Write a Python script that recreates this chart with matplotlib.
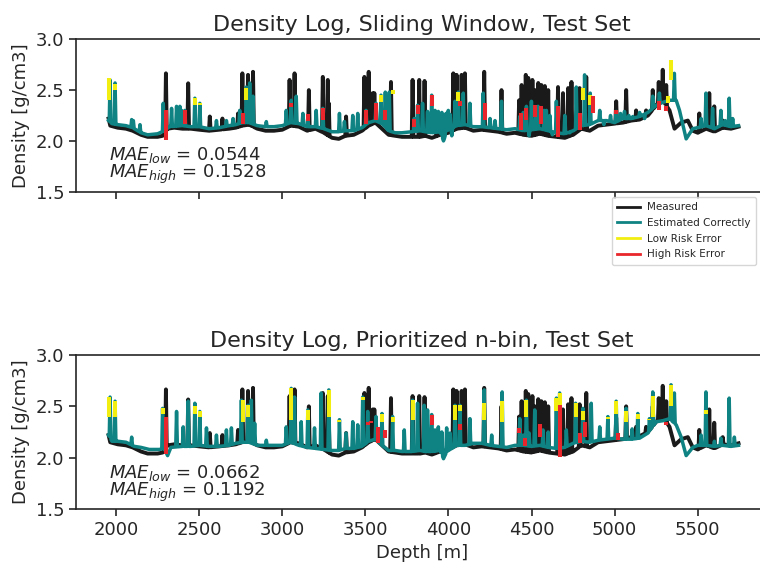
import numpy as np
import matplotlib
matplotlib.use("Agg")
import matplotlib.pyplot as plt
from matplotlib.lines import Line2D

# ---------------- data ----------------
# measured density log: baseline nodes and spikes (depth m, g/cm3)
meas_base_d = [1955, 1965, 2010, 2060, 2100, 2150, 2190, 2250, 2280, 2310, 2350, 2400, 2450, 2500,
               2560, 2620, 2680, 2720, 2760, 2800, 2850, 2900, 2950, 3000, 3050, 3100, 3150, 3200,
               3250, 3300, 3340, 3380, 3430, 3480, 3520, 3560, 3600, 3640, 3680, 3720, 3780, 3830,
               3860, 3900, 3950, 4000, 4050, 4100, 4150, 4200, 4250, 4300, 4350, 4400, 4450, 4500,
               4550, 4600, 4650, 4700, 4750, 4800, 4850, 4900, 4950, 5000, 5050, 5100, 5150, 5200,
               5250, 5290, 5330, 5360, 5400, 5440, 5470, 5500, 5550, 5600, 5650, 5700, 5745]
meas_base_v = [2.22, 2.15, 2.13, 2.12, 2.10, 2.06, 2.04, 2.04, 2.05, 2.12, 2.13, 2.12, 2.12, 2.11,
               2.10, 2.11, 2.12, 2.13, 2.15, 2.16, 2.12, 2.10, 2.10, 2.11, 2.15, 2.14, 2.10, 2.12,
               2.08, 2.03, 2.02, 2.05, 2.06, 2.10, 2.15, 2.18, 2.12, 2.06, 2.05, 2.04, 2.04, 2.04,
               2.05, 2.03, 2.06, 2.08, 2.12, 2.13, 2.10, 2.11, 2.10, 2.09, 2.07, 2.08, 2.06, 2.05,
               2.07, 2.05, 2.04, 2.03, 2.06, 2.12, 2.10, 2.15, 2.16, 2.17, 2.18, 2.20, 2.21, 2.25,
               2.35, 2.40, 2.30, 2.12, 2.18, 2.20, 2.10, 2.08, 2.12, 2.09, 2.13, 2.12, 2.14]
meas_spk_d = [2300, 2434, 2564, 2640, 2734, 2760, 2794, 2824, 3044, 3074, 3160, 3244, 3274, 3280,
              3384, 3494, 3520, 3544, 3554, 3654, 3784, 3824, 3856, 3930, 4029, 4049, 4079, 4099,
              4215, 4319, 4425, 4440, 4465, 4480, 4505, 4520, 4540, 4559, 4580, 4600, 4659, 4689,
              4720, 4740, 4789, 4829, 5009, 5069, 5129, 5189, 5229, 5265, 5289, 5310, 5509, 5569,
              5599, 5650]
meas_spk_v = [2.665, 2.567, 2.24, 2.22, 2.27, 2.665, 2.65, 2.68, 2.60, 2.665, 2.50, 2.63, 2.60, 2.37,
              2.24, 2.63, 2.68, 2.47, 2.47, 2.58, 2.60, 2.60, 2.59, 2.26, 2.665, 2.65, 2.65, 2.665,
              2.68, 2.50, 2.40, 2.55, 2.65, 2.62, 2.60, 2.50, 2.57, 2.55, 2.54, 2.50, 2.53, 2.47,
              2.52, 2.58, 2.52, 2.63, 2.39, 2.50, 2.30, 2.30, 2.50, 2.58, 2.70, 2.55, 2.27, 2.47,
              2.34, 2.20]

# --- Sliding window estimate ---
sw_base_d = [1955, 1975, 2010, 2060, 2100, 2150, 2190, 2250, 2290, 2320, 2400, 2450, 2500, 2560,
             2620, 2680, 2720, 2760, 2800, 2850, 2900, 2950, 3000, 3050, 3100, 3150, 3200, 3250,
             3300, 3340, 3380, 3430, 3480, 3520, 3560, 3600, 3640, 3680, 3720, 3780, 3830, 3860,
             3900, 3950, 3970, 3990, 4050, 4100, 4150, 4200, 4250, 4300, 4350, 4400, 4450, 4500,
             4550, 4600, 4650, 4700, 4750, 4800, 4850, 4900, 4950, 5000, 5050, 5100, 5150, 5200,
             5250, 5290, 5330, 5370, 5390, 5430, 5470, 5500, 5550, 5600, 5650, 5700, 5745]
sw_base_v = [2.20, 2.17, 2.16, 2.15, 2.13, 2.08, 2.06, 2.07, 2.10, 2.14, 2.15, 2.14, 2.14, 2.12,
             2.13, 2.15, 2.16, 2.18, 2.18, 2.15, 2.14, 2.14, 2.15, 2.18, 2.17, 2.14, 2.14, 2.12,
             2.09, 2.09, 2.10, 2.10, 2.13, 2.18, 2.20, 2.17, 2.10, 2.08, 2.08, 2.09, 2.10, 2.09,
             2.08, 2.09, 2.00, 2.10, 2.15, 2.16, 2.14, 2.14, 2.13, 2.12, 2.11, 2.12, 2.10, 2.11,
             2.12, 2.10, 2.08, 2.07, 2.10, 2.15, 2.16, 2.20, 2.20, 2.18, 2.22, 2.22, 2.24, 2.28,
             2.35, 2.38, 2.40, 2.40, 2.30, 2.02, 2.12, 2.13, 2.15, 2.12, 2.16, 2.14, 2.15]
sw_spk_d = [1964, 1994, 2094, 2104, 2144, 2284, 2334, 2364, 2384, 2394, 2414, 2474, 2504, 2604,
            2664, 2704, 2744, 2784, 2804, 2824, 2904, 3024, 3054, 3084, 3124, 3154, 3204, 3244,
            3344, 3374, 3424, 3454, 3504, 3564, 3594, 3620, 3644, 3794, 3814, 3844, 3874, 3899,
            3919, 3939, 3960, 3975, 3985, 3999, 4010, 4020, 4039, 4059, 4089, 4129, 4209, 4250,
            4280, 4319, 4429, 4450, 4469, 4485, 4499, 4525, 4539, 4575, 4589, 4610, 4625, 4649,
            4700, 4730, 4769, 4819, 4853, 4910, 4935, 4975, 5009, 5035, 5059, 5085, 5109, 5150,
            5180, 5229, 5269, 5359, 5520, 5549, 5589, 5639, 5665, 5689, 5710]
sw_spk_v = [2.60, 2.57, 2.21, 2.20, 2.16, 2.37, 2.32, 2.34, 2.34, 2.30, 2.30, 2.42, 2.37, 2.20,
            2.20, 2.22, 2.30, 2.53, 2.57, 2.44, 2.19, 2.30, 2.40, 2.44, 2.27, 2.24, 2.30, 2.32,
            2.27, 2.19, 2.25, 2.27, 2.30, 2.37, 2.45, 2.48, 2.48, 2.22, 2.35, 2.37, 2.29, 2.45,
            2.30, 2.29, 2.28, 2.02, 2.27, 2.30, 2.26, 2.05, 2.39, 2.48, 2.47, 2.37, 2.47, 2.22,
            2.20, 2.39, 2.24, 2.28, 2.34, 2.05, 2.39, 2.26, 2.34, 2.30, 2.30, 2.25, 2.06, 2.39,
            2.25, 2.08, 2.53, 2.65, 2.47, 2.30, 2.16, 2.25, 2.29, 2.27, 2.29, 2.25, 2.24, 2.28,
            2.22, 2.44, 2.47, 2.665, 2.22, 2.47, 2.32, 2.30, 2.20, 2.42, 2.22]
# error segments: depth, low value, high value
sw_low_d = [1960, 1994, 2474, 2504, 2784, 3594, 3664, 4059, 4809, 4853, 5341, 5319]
sw_low_lo = [2.40, 2.50, 2.35, 2.35, 2.40, 2.38, 2.46, 2.39, 2.40, 2.35, 2.60, 2.37]
sw_low_hi = [2.62, 2.56, 2.42, 2.37, 2.52, 2.45, 2.50, 2.48, 2.52, 2.45, 2.80, 2.44]
sw_high_d = [2300, 2414, 2764, 3054, 3154, 3244, 3504, 3564, 3620, 3794, 3814, 3899, 4069, 4219,
             4439, 4469, 4519, 4559, 4659, 4789, 4869, 5009, 5269, 5309]
sw_high_lo = [2.01, 2.17, 2.17, 2.33, 2.20, 2.21, 2.17, 2.21, 2.21, 2.14, 2.26, 2.34, 2.34, 2.21,
              2.11, 2.21, 2.24, 2.17, 2.04, 2.11, 2.27, 2.26, 2.30, 2.29]
sw_high_hi = [2.30, 2.30, 2.27, 2.37, 2.26, 2.32, 2.30, 2.37, 2.30, 2.22, 2.35, 2.45, 2.39, 2.37,
              2.27, 2.32, 2.35, 2.34, 2.34, 2.27, 2.44, 2.30, 2.39, 2.34]

# --- Prioritized n-bin estimate ---
pn_base_d = [1955, 1975, 2010, 2060, 2110, 2150, 2200, 2260, 2290, 2310, 2330, 2400, 2450, 2500,
             2560, 2620, 2680, 2720, 2760, 2800, 2850, 2900, 2950, 3000, 3050, 3100, 3150, 3200,
             3250, 3300, 3340, 3380, 3430, 3480, 3520, 3560, 3600, 3640, 3680, 3720, 3780, 3830,
             3860, 3900, 3950, 3970, 3990, 4050, 4100, 4150, 4200, 4250, 4300, 4350, 4400, 4450,
             4500, 4550, 4600, 4650, 4700, 4750, 4800, 4850, 4900, 4950, 5000, 5050, 5100, 5150,
             5200, 5250, 5290, 5330, 5370, 5400, 5430, 5470, 5500, 5550, 5600, 5650, 5700, 5745]
pn_base_v = [2.22, 2.16, 2.16, 2.15, 2.11, 2.10, 2.08, 2.08, 2.09, 2.02, 2.10, 2.11, 2.11, 2.12,
             2.11, 2.11, 2.12, 2.14, 2.15, 2.15, 2.12, 2.12, 2.12, 2.12, 2.15, 2.12, 2.10, 2.09,
             2.08, 2.07, 2.07, 2.09, 2.09, 2.11, 2.16, 2.18, 2.12, 2.07, 2.07, 2.06, 2.06, 2.07,
             2.06, 2.06, 2.07, 1.99, 2.06, 2.12, 2.12, 2.14, 2.14, 2.12, 2.11, 2.10, 2.12, 2.12,
             2.11, 2.12, 2.10, 2.09, 2.10, 2.14, 2.16, 2.15, 2.17, 2.18, 2.19, 2.18, 2.18, 2.19,
             2.24, 2.35, 2.36, 2.38, 2.32, 2.20, 2.02, 2.10, 2.12, 2.12, 2.11, 2.12, 2.11, 2.12]
pn_spk_d = [1964, 1994, 2094, 2280, 2364, 2404, 2434, 2474, 2504, 2544, 2604, 2664, 2694, 2754,
            2794, 2814, 2834, 2904, 3024, 3054, 3074, 3114, 3154, 3194, 3234, 3280, 3344, 3384,
            3424, 3454, 3484, 3514, 3564, 3600, 3664, 3734, 3784, 3814, 3854, 3874, 3899, 3919,
            3939, 3960, 3989, 4010, 4039, 4069, 4129, 4215, 4260, 4323, 4429, 4450, 4469, 4485,
            4519, 4569, 4600, 4649, 4669, 4709, 4765, 4809, 4859, 4910, 4959, 5009, 5069, 5105,
            5139, 5209, 5229, 5339, 5359, 5520, 5549, 5600, 5639, 5689, 5720]
pn_spk_v = [2.59, 2.55, 2.20, 2.48, 2.45, 2.30, 2.55, 2.53, 2.45, 2.29, 2.22, 2.27, 2.29, 2.56,
            2.51, 2.56, 2.335, 2.17, 2.30, 2.675, 2.59, 2.35, 2.465, 2.29, 2.63, 2.66, 2.37, 2.24,
            2.35, 2.32, 2.59, 2.45, 2.40, 2.43, 2.40, 2.27, 2.56, 2.53, 2.51, 2.465, 2.42, 2.27,
            2.30, 2.25, 2.29, 2.24, 2.51, 2.51, 2.38, 2.66, 2.22, 2.64, 2.38, 2.22, 2.56, 2.24,
            2.465, 2.27, 2.25, 2.58, 2.63, 2.27, 2.53, 2.48, 2.53, 2.30, 2.40, 2.55, 2.48, 2.28,
            2.43, 2.38, 2.64, 2.71, 2.63, 2.22, 2.64, 2.16, 2.19, 2.58, 2.20]
pn_low_d = [1960, 1994, 2280, 2474, 2504, 2764, 2794, 3054, 3154, 3280, 3344, 3484, 3600, 3664,
            3784, 4039, 4069, 4215, 4323, 4469, 4649, 4669, 4765, 4809, 4959, 5009, 5069, 5139,
            5209, 5229, 5339, 5549]
pn_low_lo = [2.40, 2.40, 2.43, 2.43, 2.40, 2.35, 2.40, 2.37, 2.37, 2.40, 2.35, 2.56, 2.35, 2.35,
             2.37, 2.37, 2.45, 2.37, 2.35, 2.40, 2.45, 2.51, 2.40, 2.37, 2.38, 2.43, 2.35, 2.38,
             2.37, 2.40, 2.50, 2.43]
pn_low_hi = [2.59, 2.55, 2.48, 2.50, 2.45, 2.56, 2.51, 2.675, 2.465, 2.66, 2.37, 2.59, 2.43, 2.40,
             2.56, 2.51, 2.51, 2.53, 2.55, 2.56, 2.58, 2.63, 2.53, 2.45, 2.40, 2.55, 2.45, 2.43,
             2.38, 2.60, 2.71, 2.46]
pn_high_d = [2300, 3514, 3534, 3574, 3620, 3899, 4069, 4425, 4459, 4549, 4669, 4789, 4819, 5019, 5309]
pn_high_lo = [2.04, 2.32, 2.34, 2.14, 2.19, 2.32, 2.27, 2.24, 2.11, 2.20, 2.01, 2.14, 2.20, 2.17, 2.32]
pn_high_hi = [2.40, 2.35, 2.36, 2.30, 2.27, 2.42, 2.33, 2.29, 2.19, 2.33, 2.51, 2.24, 2.35, 2.24, 2.35]

titles = ["Density Log, Sliding Window, Test Set", "Density Log, Prioritized n-bin, Test Set"]
mae_low = [0.0544, 0.0662]
mae_high = [0.1528, 0.1192]
legend_labels = ["Measured", "Estimated Correctly", "Low Risk Error", "High Risk Error"]
xticks = [2000, 2500, 3000, 3500, 4000, 4500, 5000, 5500]
yticks = [1.5, 2.0, 2.5, 3.0]


def build_log(base_d, base_v, spk_d, spk_v, half=5.0):
    base_d = np.asarray(base_d, float)
    base_v = np.asarray(base_v, float)
    keep = np.ones(len(base_d), bool)
    for sd in spk_d:
        keep &= ~((base_d > sd - half) & (base_d < sd + half))
    d_pts = list(base_d[keep])
    v_pts = list(base_v[keep])
    for sd, sv in zip(spk_d, spk_v):
        for dd in (sd - half, sd + half):
            d_pts.append(dd)
            v_pts.append(np.interp(dd, base_d, base_v))
        d_pts.append(sd)
        v_pts.append(sv)
    order = np.argsort(d_pts, kind="stable")
    return np.asarray(d_pts)[order], np.asarray(v_pts)[order]


TEXT = "#262626"
BLACK = "#1a1a1a"
TEAL = "#0f8383"
YELLOW = "#f2ee10"
RED = "#e8262b"
LW = 2.5

plt.rcParams.update({
    "font.family": "DejaVu Sans",
    "text.color": TEXT, "axes.labelcolor": TEXT,
    "xtick.color": TEXT, "ytick.color": TEXT,
    "axes.edgecolor": TEXT,
})

fig = plt.figure(figsize=(7.6, 5.66), dpi=100)
W, H = 760.0, 566.0
ax_top = fig.add_axes([76 / W, (H - 191.7) / H, 691.6 / W, 152.4 / H])
ax_bot = fig.add_axes([76 / W, (H - 509.0) / H, 691.6 / W, 154.0 / H])

md, mv = build_log(meas_base_d, meas_base_v, meas_spk_d, meas_spk_v)
panels = [
    (ax_top, (sw_base_d, sw_base_v, sw_spk_d, sw_spk_v),
     (sw_low_d, sw_low_lo, sw_low_hi), (sw_high_d, sw_high_lo, sw_high_hi)),
    (ax_bot, (pn_base_d, pn_base_v, pn_spk_d, pn_spk_v),
     (pn_low_d, pn_low_lo, pn_low_hi), (pn_high_d, pn_high_lo, pn_high_hi)),
]

for i, (ax, est, low, high) in enumerate(panels):
    ed, ev = build_log(*est)
    ax.plot(md, mv, color=BLACK, lw=LW + 0.3)
    ax.plot(ed, ev, color=TEAL, lw=LW)
    for d, lo, hi in zip(*low):
        ax.plot([d, d], [lo, hi], color=YELLOW, lw=LW + 0.4, solid_capstyle="butt")
    for d, lo, hi in zip(*high):
        ax.plot([d, d], [lo, hi], color=RED, lw=LW + 0.4, solid_capstyle="butt")
    ax.set_xlim(1759, 5920)
    ax.set_ylim(1.5, 3.0)
    ax.set_yticks(yticks)
    ax.set_xticks(xticks)
    ax.set_title(titles[i], fontsize=16, color=TEXT, pad=6)
    ax.set_ylabel("Density [g/cm3]", fontsize=13)
    ax.tick_params(axis="both", labelsize=13, length=5, width=1.2, direction="out")
    for s in ax.spines.values():
        s.set_linewidth(1.2)
    ax.spines["right"].set_visible(False)
    ax.text(0.048, 0.035,
            "$MAE_{low}$ = %.4f\n$MAE_{high}$ = %.4f" % (mae_low[i], mae_high[i]),
            transform=ax.transAxes, fontsize=13, ha="left", va="bottom",
            linespacing=0.85, color=TEXT)

ax_top.tick_params(axis="x", labelbottom=False)
ax_bot.set_xlabel("Depth [m]", fontsize=13)

handles = [Line2D([], [], color=c, lw=2) for c in (BLACK, TEAL, YELLOW, RED)]
fig.legend(handles, legend_labels, loc="upper left", bbox_to_anchor=(612 / W, 1 - 197 / H),
           fontsize=7.5, frameon=True, edgecolor="#cccccc", borderaxespad=0.0,
           handlelength=2.2, handletextpad=0.7, labelspacing=0.55, borderpad=0.5)

fig.savefig("out.png", dpi=100)
